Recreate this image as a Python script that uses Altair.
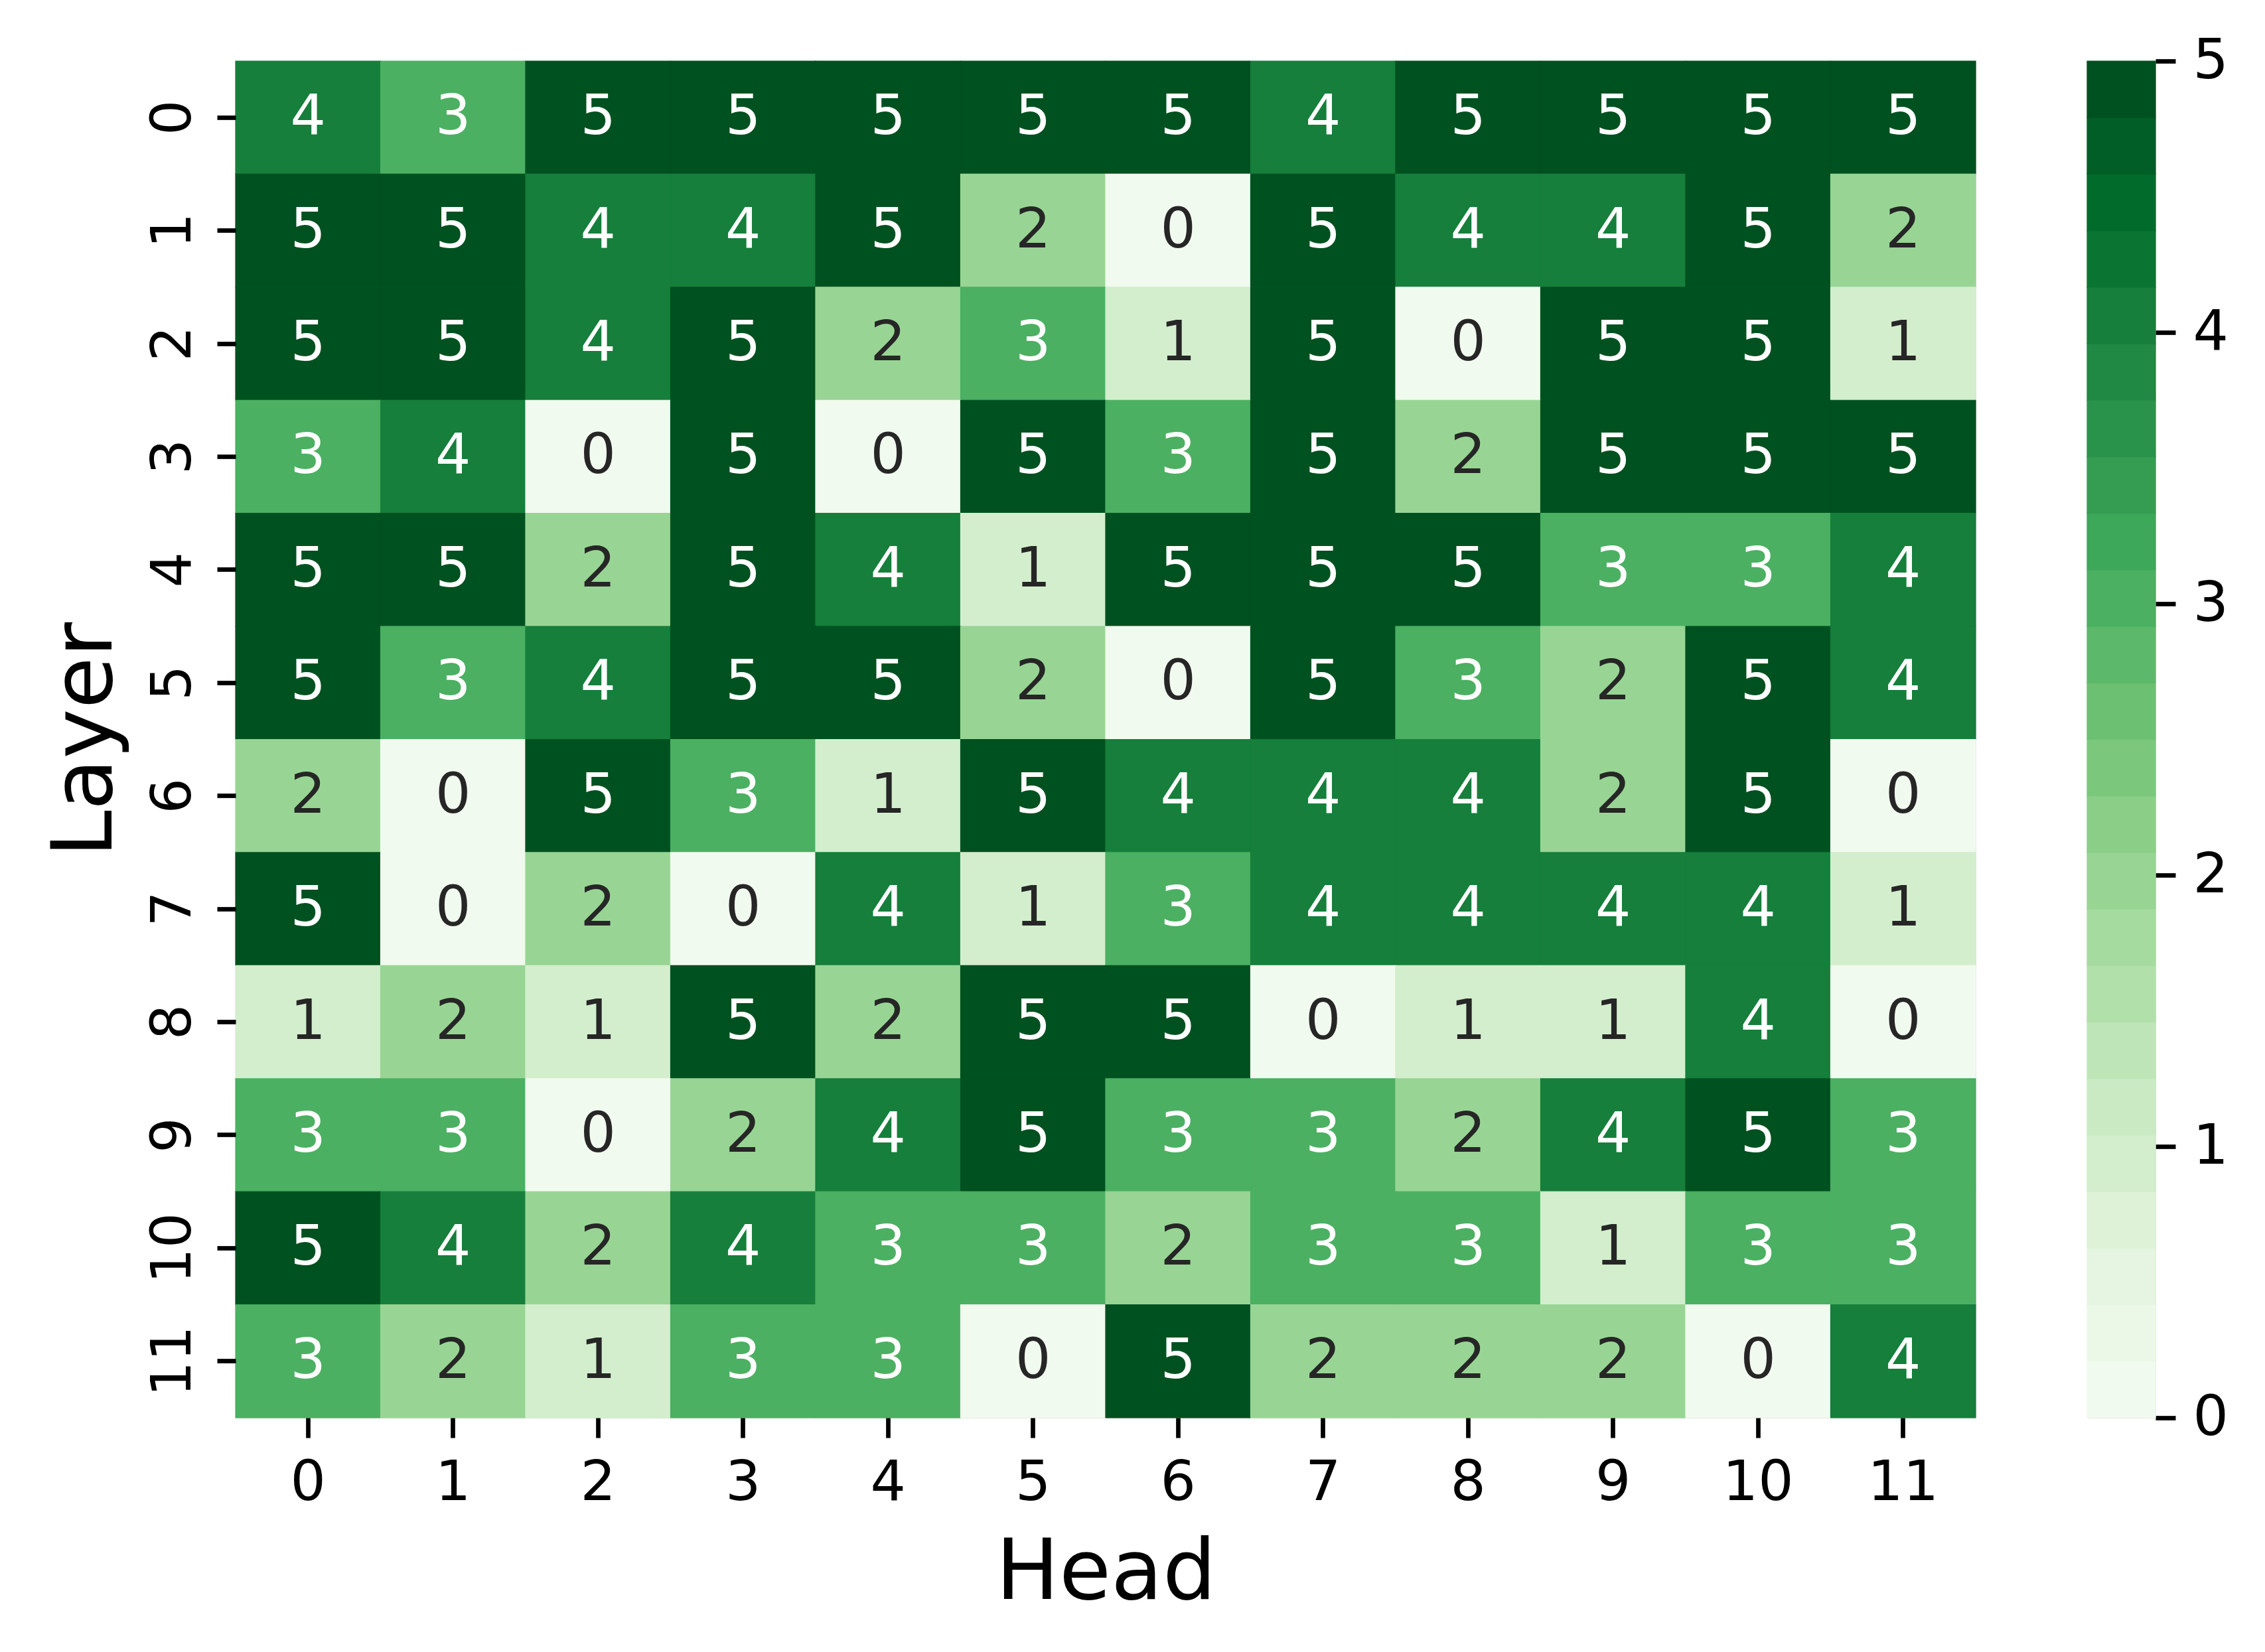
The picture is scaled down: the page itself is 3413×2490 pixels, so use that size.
import altair as alt
import pandas as pd

# ---- data ----
layers = list(range(12))
heads = list(range(12))
scores = [
    [4, 3, 5, 5, 5, 5, 5, 4, 5, 5, 5, 5],
    [5, 5, 4, 4, 5, 2, 0, 5, 4, 4, 5, 2],
    [5, 5, 4, 5, 2, 3, 1, 5, 0, 5, 5, 1],
    [3, 4, 0, 5, 0, 5, 3, 5, 2, 5, 5, 5],
    [5, 5, 2, 5, 4, 1, 5, 5, 5, 3, 3, 4],
    [5, 3, 4, 5, 5, 2, 0, 5, 3, 2, 5, 4],
    [2, 0, 5, 3, 1, 5, 4, 4, 4, 2, 5, 0],
    [5, 0, 2, 0, 4, 1, 3, 4, 4, 4, 4, 1],
    [1, 2, 1, 5, 2, 5, 5, 0, 1, 1, 4, 0],
    [3, 3, 0, 2, 4, 5, 3, 3, 2, 4, 5, 3],
    [5, 4, 2, 4, 3, 3, 2, 3, 3, 1, 3, 3],
    [3, 2, 1, 3, 3, 0, 5, 2, 2, 2, 0, 4],
]
vmin, vmax = 0, 5
n_colors = 24
colorbar_ticks = [0, 1, 2, 3, 4, 5]

# ---- colour palette: matplotlib "Greens", seaborn-style discrete sampling ----
GREENS = ["#f7fcf5", "#e5f5e0", "#c7e9c0", "#a1d99b", "#74c476",
          "#41ab5d", "#238b45", "#006d2c", "#00441b"]


def hex2rgb(h):
    return [int(h[i:i + 2], 16) for i in (1, 3, 5)]


def greens(t):
    pos = t * (len(GREENS) - 1)
    i = min(int(pos), len(GREENS) - 2)
    f = pos - i
    a, b = hex2rgb(GREENS[i]), hex2rgb(GREENS[i + 1])
    c = [round(a[k] + (b[k] - a[k]) * f) for k in range(3)]
    return "#%02x%02x%02x" % tuple(c)


palette = [greens((i + 1) / (n_colors + 1)) for i in range(n_colors)]

rows = []
for li, layer in enumerate(layers):
    for hi, head in enumerate(heads):
        rows.append({"Layer": str(layer), "Head": str(head), "value": scores[li][hi]})
df = pd.DataFrame(rows)

step = (vmax - vmin) / n_colors
bands = pd.DataFrame({
    "lo": [vmin + i * step for i in range(n_colors)],
    "hi": [vmin + (i + 1) * step for i in range(n_colors)],
    "mid": [vmin + (i + 0.5) * step for i in range(n_colors)],
})

FONT = "DejaVu Sans"
TICK_FS = 84
TITLE_FS = 127
W, H = 2622, 2045

color_scale = alt.Scale(type="quantize", domain=[vmin, vmax], range=palette, nice=False)

x_enc = alt.X(
    "Head:O", sort=[str(h) for h in heads],
    scale=alt.Scale(paddingInner=0, paddingOuter=0),
    axis=alt.Axis(
        title="Head", labelAngle=0, domain=False, ticks=True, tickSize=30,
        tickWidth=6.7, tickColor="black", labelPadding=93,
        labelBaseline="alphabetic", labelFontSize=TICK_FS, labelFont=FONT,
        labelColor="black", titleFont=FONT, titleFontSize=TITLE_FS,
        titleFontWeight="normal", titleColor="black", titleBaseline="alphabetic",
        titleY=272, titleAlign="center",
    ),
)
y_enc = alt.Y(
    "Layer:O", sort=[str(l) for l in layers],
    scale=alt.Scale(paddingInner=0, paddingOuter=0),
    axis=alt.Axis(
        title="Layer", labelAngle=270, labelAlign="center",
        labelBaseline="alphabetic", domain=False, ticks=True, tickSize=28,
        tickWidth=6.7, tickColor="black", labelPadding=41,
        labelFontSize=TICK_FS, labelFont=FONT, labelColor="black",
        titleFont=FONT, titleFontSize=TITLE_FS, titleFontWeight="normal",
        titleColor="black", titleAngle=270, titleAlign="center",
        titleBaseline="alphabetic", titleX=-188, titleY=H / 2,
    ),
)

base = alt.Chart(df).encode(x=x_enc, y=y_enc)
cells = base.mark_rect(strokeWidth=1.2).encode(
    color=alt.Color("value:Q", scale=color_scale, legend=None),
    stroke=alt.Stroke("value:Q", scale=color_scale, legend=None),
)
labels = base.mark_text(font=FONT, fontSize=TICK_FS, baseline="middle", align="center").encode(
    text=alt.Text("value:Q"),
    color=alt.condition(alt.datum.value >= 3, alt.value("white"), alt.value("#262626")),
)
heat = (cells + labels).properties(width=W, height=H)

cbar = alt.Chart(bands).mark_rect(strokeWidth=1.2).encode(
    y=alt.Y(
        "lo:Q", scale=alt.Scale(domain=[vmin, vmax], nice=False, zero=False),
        axis=alt.Axis(
            orient="right", values=colorbar_ticks, title=None, domain=False,
            grid=False, tickSize=30, tickWidth=6.7, tickColor="black",
            labelPadding=26, labelFontSize=TICK_FS, labelFont=FONT,
            labelColor="black", labelAlign="left", labelBaseline="middle",
            labelFlush=False, labelOverlap=False, format="d",
        ),
    ),
    y2="hi:Q",
    color=alt.Color("mid:Q", scale=color_scale, legend=None),
    stroke=alt.Stroke("mid:Q", scale=color_scale, legend=None),
).properties(width=103, height=H)

chart = (
    alt.hconcat(heat, cbar, spacing=164)
    .resolve_scale(color="shared", stroke="shared")
    .properties(padding={"left": 56, "top": 41, "right": 20, "bottom": 20})
    .configure_view(stroke=None)
    .configure(background="white")
)

chart.save("out.html", embed_options={"renderer": "svg", "actions": False})
